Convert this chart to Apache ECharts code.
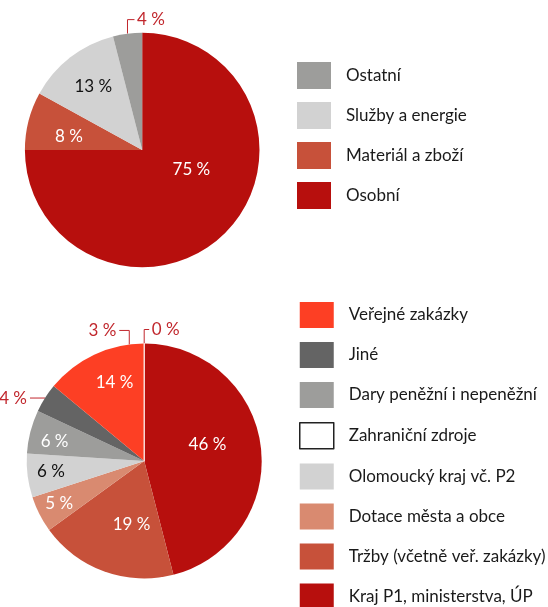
<!DOCTYPE html>
<html>
<head>
<meta charset="utf-8">
<script src="https://cdn.jsdelivr.net/npm/echarts@6/dist/echarts.min.js"></script>
<style>
  html, body { margin: 0; padding: 0; background: #fff; }
  #chart { width: 548px; height: 607px; }
</style>
</head>
<body>
<div id="chart"></div>
<script>
// horni graf - naklady
const costNames = ['Osobní', 'Materiál a zboží', 'Služby a energie', 'Ostatní'];
const costValues = [75, 8, 13, 4];
const costLabels = ['75 %', '8 %', '13 %', '4 %'];
const costLegend = ['Ostatní', 'Služby a energie', 'Materiál a zboží', 'Osobní'];

// dolni graf - zdroje financovani
const srcNames = ['Kraj P1, ministerstva, ÚP', 'Tržby (včetně veř. zakázky)', 'Dotace města a obce',
  'Olomoucký kraj vč. P2', 'Dary peněžní i nepeněžní', 'Jiné', 'Veřejné zakázky', '', 'Zahraniční zdroje'];
const srcValues = [46, 19, 5, 6, 6, 4, 14, 0, 0];
const srcLabels = ['46 %', '19 %', '5 %', '6 %', '6 %', '4 %', '14 %', '3 %', '0 %'];
const srcLegend = ['Veřejné zakázky', 'Jiné', 'Dary peněžní i nepeněžní', 'Zahraniční zdroje',
  'Olomoucký kraj vč. P2', 'Dotace města a obce', 'Tržby (včetně veř. zakázky)', 'Kraj P1, ministerstva, ÚP'];

const colors = {
  'Osobní': '#b70f0d', 'Kraj P1, ministerstva, ÚP': '#b70f0d',
  'Materiál a zboží': '#c7513a', 'Tržby (včetně veř. zakázky)': '#c7513a',
  'Služby a energie': '#d2d2d2', 'Olomoucký kraj vč. P2': '#d2d2d2',
  'Ostatní': '#9d9d9b', 'Dary peněžní i nepeněžní': '#9d9d9b',
  'Jiné': '#646464', 'Veřejné zakázky': '#fd3f24', '': '#fd3f24',
  'Dotace města a obce': '#d98a70', 'Zahraniční zdroje': '#ffffff'
};
const darkText = ['Služby a energie', 'Olomoucký kraj vč. P2'];
const outside = ['Ostatní', 'Jiné', '', 'Zahraniční zdroje'];
const RED = '#c1272d';
const FONT = 'Lato';

const C1 = [142.2, 150], R1 = 117.3;
const C2 = [144.2, 461], R2 = 117.5;

// umisteni popisku: k = podil polomeru (uvnitr), jinak vodici cara nahoru/do strany
const costPlace = [
  { shift: -23.7, k: 0.45 },
  { shift: -3.6, k: 0.635 },
  { shift: 0, k: 0.68 },
  { shift: 0, up: 14, side: 7 }
];
const srcPlace = [
  { shift: -7.8, k: 0.557 },
  { shift: -8.6, k: 0.555 },
  { shift: 0.2, k: 0.81 },
  { shift: 0.5, k: 0.8 },
  { shift: -2.4, k: 0.78 },
  { shift: 0, up: 0, side: -15 },
  { shift: 4.4, k: 0.71 },
  { shift: -7.3, up: 14, side: -10 },
  { shift: 0, up: 14, side: 5 }
];

const RAD = Math.PI / 180;
function midAngles(values) {
  const total = values.reduce((a, b) => a + b, 0);
  let acc = 0;
  return values.map(v => {
    const m = (acc + v / 2) / total * 360;
    acc += v;
    return m;
  });
}
function polar(c, r, deg) {
  return [c[0] + r * Math.sin(deg * RAD), c[1] - r * Math.cos(deg * RAD)];
}
function makeLayout(values, center, radius, place) {
  const mids = midAngles(values);
  return function (p) {
    const spot = place[p.dataIndex];
    const a = mids[p.dataIndex] + spot.shift;
    if (spot.k) {
      const [x, y] = polar(center, radius * spot.k, a);
      return { x: x, y: y, align: 'center', verticalAlign: 'middle' };
    }
    const p0 = polar(center, radius, a);
    const p1 = [p0[0], p0[1] - spot.up];
    const p2 = [p1[0] + spot.side, p1[1]];
    return {
      x: p2[0] + (spot.side > 0 ? 2.5 : -3),
      y: p2[1],
      align: spot.side > 0 ? 'left' : 'right',
      verticalAlign: 'middle',
      labelLinePoints: [p0, p1, p2]
    };
  };
}

function buildData(names, values, labels) {
  return names.map((n, i) => {
    const out = outside.indexOf(n) >= 0;
    const item = {
      name: n,
      value: values[i],
      itemStyle: { color: colors[n] },
      label: {
        position: out ? 'outside' : 'inside',
        color: out ? RED : (darkText.indexOf(n) >= 0 ? '#111' : '#fff'),
        formatter: labels[i]
      },
      labelLine: { show: out }
    };
    if (n === 'Zahraniční zdroje') {
      item.itemStyle = { color: '#fff', borderColor: '#fff', borderWidth: 1.2 };
    }
    return item;
  });
}

function legendData(list) {
  return list.map(n => n === 'Zahraniční zdroje'
    ? { name: n, itemStyle: { color: '#fff', borderColor: '#222', borderWidth: 1.5 } }
    : { name: n, itemStyle: { color: colors[n] } });
}

const pieBase = {
  type: 'pie',
  startAngle: 90,
  clockwise: true,
  avoidLabelOverlap: false,
  silent: true,
  emphasis: { disabled: true },
  label: { fontFamily: FONT, fontSize: 17 },
  labelLine: { lineStyle: { color: RED, width: 1 } }
};

const legendBase = {
  orient: 'vertical',
  icon: 'rect',
  selectedMode: false,
  padding: 0,
  height: 340,
  itemWidth: 34,
  itemHeight: 27,
  itemGap: 13,
  textStyle: { fontFamily: FONT, fontSize: 17, color: '#1a1a1a', padding: [0, 0, 0, 10] }
};

const myChart = echarts.init(document.getElementById('chart'));
const option = {
  animation: false,
  textStyle: { fontFamily: FONT },
  legend: [
    Object.assign({}, legendBase, { left: 297, top: 62, data: legendData(costLegend) }),
    Object.assign({}, legendBase, { left: 299, top: 302, itemHeight: 26, itemGap: 14, data: legendData(srcLegend) })
  ],
  series: [
    Object.assign({}, pieBase, {
      center: C1,
      radius: R1,
      data: buildData(costNames, costValues, costLabels),
      labelLayout: makeLayout(costValues, C1, R1, costPlace)
    }),
    Object.assign({}, pieBase, {
      center: C2,
      radius: R2,
      data: buildData(srcNames, srcValues, srcLabels),
      labelLayout: makeLayout(srcValues, C2, R2, srcPlace)
    })
  ]
};
myChart.setOption(option);
</script>
</body>
</html>
